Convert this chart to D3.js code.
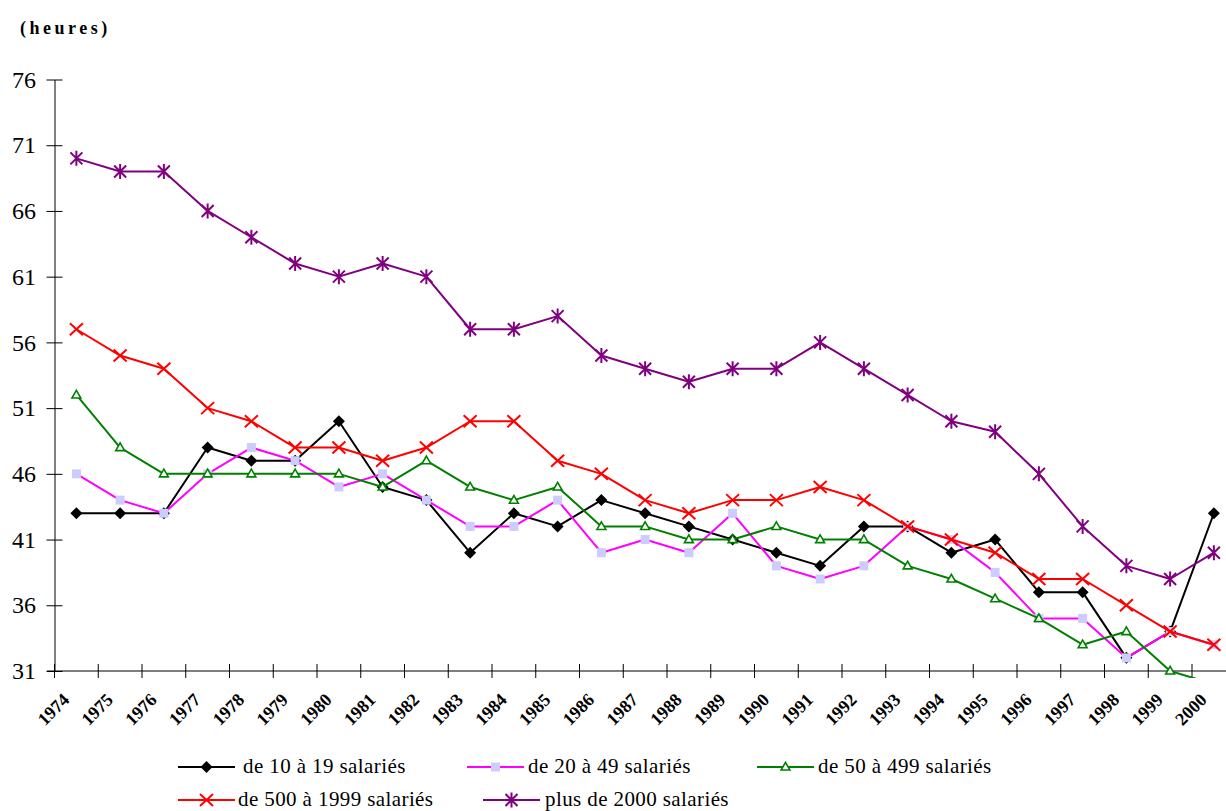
<!DOCTYPE html>
<html>
<head>
<meta charset="utf-8">
<script src="https://cdn.jsdelivr.net/npm/d3@7"></script>
<style>
  body { margin: 0; background: #fff; }
  svg { display: block; }
</style>
</head>
<body>
<svg id="chart" width="1226" height="811"></svg>
<script>
// ---------- DATA ----------
const years = ["1974","1975","1976","1977","1978","1979","1980","1981","1982","1983",
               "1984","1985","1986","1987","1988","1989","1990","1991","1992","1993",
               "1994","1995","1996","1997","1998","1999","2000"];

const s10to19    = [43,43,43,48,47,47,50,45,44,40,43,42,44,43,42,41,40,39,42,42,40,41,37,37,32,34,43];
const s20to49    = [46,44,43,46,48,47,45,46,44,42,42,44,40,41,40,43,39,38,39,42,41,38.5,35,35,32,34,33];
const s50to499   = [52,48,46,46,46,46,46,45,47,45,44,45,42,42,41,41,42,41,41,39,38,36.5,35,33,34,31,30];
const s500to1999 = [57,55,54,51,50,48,48,47,48,50,50,47,46,44,43,44,44,45,44,42,41,40,38,38,36,34,33];
const s2000plus  = [70,69,69,66,64,62,61,62,61,57,57,58,55,54,53,54,54,56,54,52,50,49.2,46,42,39,38,40];

const seriesNames = ["de 10 à 19 salariés", "de 20 à 49 salariés", "de 50 à 499 salariés",
                     "de 500 à 1999 salariés", "plus de 2000 salariés"];
const yTicks = [31,36,41,46,51,56,61,66,71,76];
const unitLabel = "(heures)";

// ---------- STYLE / LAYOUT ----------
const series = [
  { name: seriesNames[0], values: s10to19,    color: "#000000", marker: "diamond" },
  { name: seriesNames[1], values: s20to49,    color: "#ff00ff", marker: "square" },
  { name: seriesNames[2], values: s50to499,   color: "#008000", marker: "triangle" },
  { name: seriesNames[3], values: s500to1999, color: "#ff0000", marker: "x" },
  { name: seriesNames[4], values: s2000plus,  color: "#800080", marker: "star" }
];

const W = 1226, H = 811;
const left = 54.5, step = 43.75;
const svg = d3.select("#chart");
svg.append("rect").attr("width", W).attr("height", H).attr("fill", "#fff");

const x = d3.scaleBand().domain(years).range([left, left + step * years.length]).padding(0);
const y = d3.scaleLinear().domain([31, 76]).range([671, 79.5]);
const bw = x.bandwidth();
const serif = "'Liberation Serif', 'Times New Roman', serif";

// title
svg.append("text")
  .attr("x", 20).attr("y", 34)
  .attr("font-family", serif).attr("font-weight", "bold")
  .attr("font-size", 18).attr("letter-spacing", 3.5)
  .text(unitLabel);

// y axis
const gy = svg.append("g").attr("transform", `translate(${left},0)`)
  .call(d3.axisLeft(y).tickValues(yTicks).tickSize(8).tickSizeOuter(0).tickPadding(10.5).tickFormat(d3.format("d")));
gy.selectAll(".tick line").attr("x1", 8).attr("stroke", "#000");
gy.select(".domain").attr("stroke", "#000");
gy.selectAll(".tick text").attr("font-family", serif).attr("font-size", 24).attr("fill", "#000");

// x axis
const gx = svg.append("g").attr("transform", `translate(0,${y(31)})`)
  .call(d3.axisBottom(x).tickSize(0).tickSizeOuter(0));
gx.select(".domain").remove();
gx.append("line").attr("x1", 47).attr("x2", W).attr("y1", 0).attr("y2", 0)
  .attr("stroke", "#000").attr("stroke-width", 1);
gx.selectAll(".boundary").data(years).enter().append("line")
  .attr("class", "boundary")
  .attr("x1", d => x(d)).attr("x2", d => x(d))
  .attr("y1", -7).attr("y2", 7)
  .attr("stroke", "#000");
gx.selectAll(".tick text")
  .attr("font-family", serif).attr("font-size", 18).attr("font-weight", "bold")
  .attr("fill", "#000")
  .attr("text-anchor", "end")
  .attr("x", 0).attr("y", 0).attr("dy", 0)
  .attr("transform", "translate(-6,30) rotate(-45)");

// clip
svg.append("clipPath").attr("id", "plotClip")
  .append("rect").attr("x", 0).attr("y", 0).attr("width", W).attr("height", y(31) + 7);

const line = d3.line()
  .x((d, i) => x(years[i]) + bw / 2)
  .y(d => y(d));

function drawMarker(g, type, color, cx, cy) {
  const m = g.append("g").attr("transform", `translate(${cx},${cy})`);
  if (type === "diamond") {
    m.append("path").attr("d", d3.symbol(d3.symbolSquare, 72)())
      .attr("transform", "rotate(45)").attr("fill", color);
  } else if (type === "square") {
    m.append("path").attr("d", d3.symbol(d3.symbolSquare, 81)()).attr("fill", "#ccccff");
  } else if (type === "triangle") {
    m.append("path").attr("d", d3.symbol(d3.symbolTriangle, 34)())
      .attr("transform", "translate(0,0.5)")
      .attr("fill", "#fff").attr("stroke", color).attr("stroke-width", 1.6);
  } else if (type === "x") {
    m.append("path").attr("d", "M-6.5,-6L6.5,6M-6.5,6L6.5,-6")
      .attr("fill", "none").attr("stroke", color).attr("stroke-width", 2);
  } else if (type === "star") {
    m.append("path").attr("d", "M-6,-6L6,6M-6,6L6,-6M0,-7.5L0,7.5")
      .attr("fill", "none").attr("stroke", color).attr("stroke-width", 2);
  }
}

const plot = svg.append("g").attr("clip-path", "url(#plotClip)");
series.forEach(s => {
  const g = plot.append("g");
  g.append("path").datum(s.values)
    .attr("d", line)
    .attr("fill", "none").attr("stroke", s.color).attr("stroke-width", 2)
    .attr("stroke-linejoin", "round");
  s.values.forEach((v, i) => {
    const cy = y(v);
    if (cy <= y(31) + 1) drawMarker(g, s.marker, s.color, x(years[i]) + bw / 2, cy);
  });
});

// legend
const legendLayout = [
  { x: 178, y: 767, tx: 243 },
  { x: 467, y: 767, tx: 528 },
  { x: 757, y: 767, tx: 818 },
  { x: 178, y: 800, tx: 238 },
  { x: 483, y: 800, tx: 545 }
];
series.forEach((s, i) => {
  const L = legendLayout[i];
  const g = svg.append("g");
  g.append("line").attr("x1", L.x).attr("x2", L.x + 57).attr("y1", L.y).attr("y2", L.y)
    .attr("stroke", s.color).attr("stroke-width", 2);
  drawMarker(g, s.marker, s.color, L.x + 28.5, L.y);
  g.append("text").attr("x", L.tx).attr("y", L.y + 6)
    .attr("font-family", serif).attr("font-size", 21).attr("letter-spacing", 0.4)
    .attr("fill", "#000")
    .text(s.name);
});
</script>
</body>
</html>
